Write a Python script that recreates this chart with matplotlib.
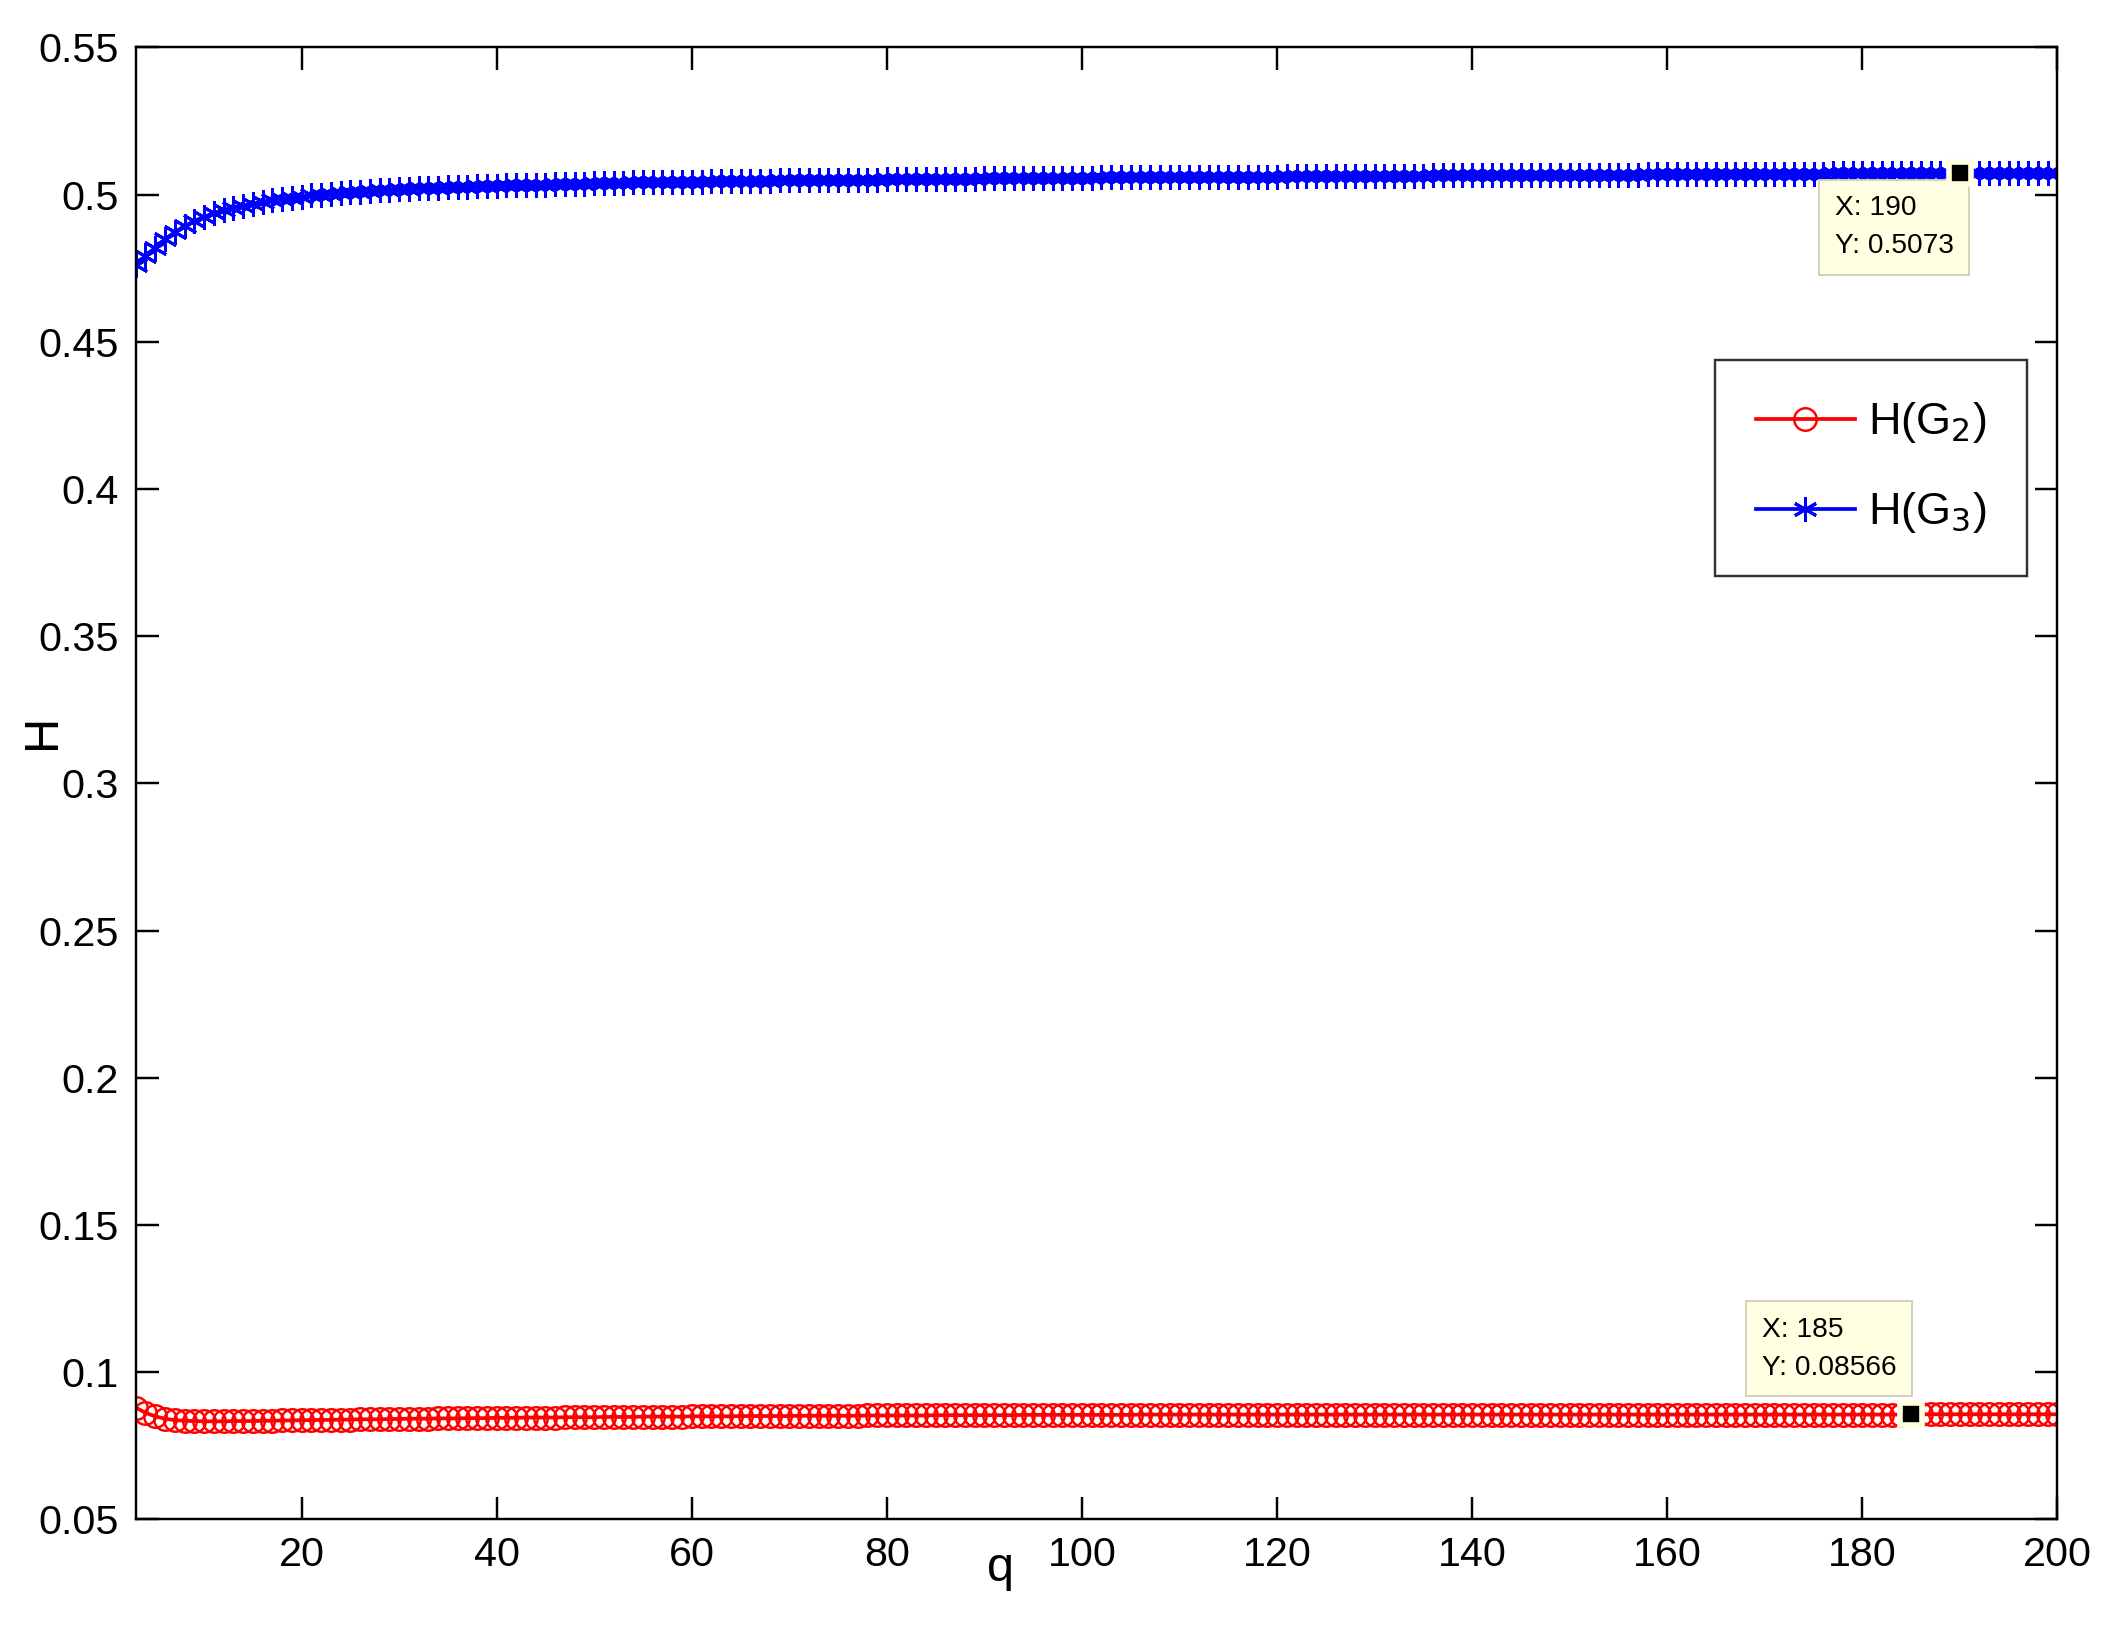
import matplotlib
matplotlib.use("Agg")
import matplotlib.pyplot as plt
import numpy as np

plt.rcParams['font.family'] = ['Liberation Sans', 'DejaVu Sans']

q = np.arange(3, 201)

h_g3 = [
    0.4760, 0.4790, 0.4820, 0.4848, 0.4872, 0.4893, 0.4910, 0.4924, 0.4936, 0.4946,
    0.4955, 0.4962, 0.4969, 0.4975, 0.4980, 0.4985, 0.4989, 0.4993, 0.4997, 0.5000,
    0.5003, 0.5006, 0.5008, 0.5010, 0.5012, 0.5014, 0.5016, 0.5018, 0.5019, 0.5021,
    0.5022, 0.5023, 0.5025, 0.5026, 0.5027, 0.5028, 0.5029, 0.5030, 0.5031, 0.5032,
    0.5033, 0.5034, 0.5034, 0.5035, 0.5036, 0.5037, 0.5037, 0.5038, 0.5039, 0.5039,
    0.5040, 0.5041, 0.5041, 0.5042, 0.5042, 0.5043, 0.5043, 0.5044, 0.5044, 0.5045,
    0.5045, 0.5046, 0.5046, 0.5047, 0.5047, 0.5047, 0.5048, 0.5048, 0.5049, 0.5049,
    0.5049, 0.5050, 0.5050, 0.5050, 0.5051, 0.5051, 0.5051, 0.5052, 0.5052, 0.5052,
    0.5053, 0.5053, 0.5053, 0.5053, 0.5054, 0.5054, 0.5054, 0.5055, 0.5055, 0.5055,
    0.5055, 0.5056, 0.5056, 0.5056, 0.5056, 0.5057, 0.5057, 0.5057, 0.5057, 0.5058,
    0.5058, 0.5058, 0.5058, 0.5058, 0.5059, 0.5059, 0.5059, 0.5059, 0.5060, 0.5060,
    0.5060, 0.5060, 0.5060, 0.5061, 0.5061, 0.5061, 0.5061, 0.5061, 0.5062, 0.5062,
    0.5062, 0.5062, 0.5062, 0.5063, 0.5063, 0.5063, 0.5063, 0.5063, 0.5064, 0.5064,
    0.5064, 0.5064, 0.5064, 0.5065, 0.5065, 0.5065, 0.5065, 0.5065, 0.5066, 0.5066,
    0.5066, 0.5066, 0.5066, 0.5066, 0.5067, 0.5067, 0.5067, 0.5067, 0.5067, 0.5068,
    0.5068, 0.5068, 0.5068, 0.5068, 0.5068, 0.5069, 0.5069, 0.5069, 0.5069, 0.5069,
    0.5069, 0.5070, 0.5070, 0.5070, 0.5070, 0.5070, 0.5070, 0.5071, 0.5071, 0.5071,
    0.5071, 0.5071, 0.5071, 0.5071, 0.5072, 0.5072, 0.5072, 0.5072, 0.5072, 0.5072,
    0.5072, 0.5073, 0.5073, 0.5073, 0.5073, 0.5073, 0.5073, 0.5073, 0.5073, 0.5074,
    0.5074, 0.5074, 0.5074, 0.5074, 0.5074, 0.5074, 0.5074, 0.5074,
]

h_g2 = [
    0.0880, 0.0862, 0.0850, 0.0842, 0.0837, 0.0835, 0.0834, 0.0833, 0.0833, 0.0833,
    0.0834, 0.0834, 0.0834, 0.0835, 0.0835, 0.0836, 0.0836, 0.0837, 0.0837, 0.0838,
    0.0838, 0.0839, 0.0839, 0.0840, 0.0840, 0.0840, 0.0841, 0.0841, 0.0842, 0.0842,
    0.0842, 0.0843, 0.0843, 0.0843, 0.0844, 0.0844, 0.0844, 0.0845, 0.0845, 0.0845,
    0.0846, 0.0846, 0.0846, 0.0846, 0.0847, 0.0847, 0.0847, 0.0847, 0.0848, 0.0848,
    0.0848, 0.0848, 0.0849, 0.0849, 0.0849, 0.0849, 0.0849, 0.0850, 0.0850, 0.0850,
    0.0850, 0.0850, 0.0851, 0.0851, 0.0851, 0.0851, 0.0851, 0.0851, 0.0852, 0.0852,
    0.0852, 0.0852, 0.0852, 0.0852, 0.0852, 0.0853, 0.0853, 0.0853, 0.0853, 0.0853,
    0.0853, 0.0853, 0.0854, 0.0854, 0.0854, 0.0854, 0.0854, 0.0854, 0.0854, 0.0854,
    0.0854, 0.0855, 0.0855, 0.0855, 0.0855, 0.0855, 0.0855, 0.0855, 0.0855, 0.0855,
    0.0855, 0.0855, 0.0855, 0.0856, 0.0856, 0.0856, 0.0856, 0.0856, 0.0856, 0.0856,
    0.0856, 0.0856, 0.0856, 0.0856, 0.0856, 0.0856, 0.0856, 0.0856, 0.0856, 0.0856,
    0.0856, 0.0856, 0.0856, 0.0856, 0.0856, 0.0856, 0.0856, 0.0856, 0.0856, 0.0856,
    0.0856, 0.0856, 0.0856, 0.0856, 0.0856, 0.0856, 0.0856, 0.0856, 0.0856, 0.0856,
    0.0856, 0.0856, 0.0856, 0.0856, 0.0856, 0.0856, 0.0856, 0.0856, 0.0856, 0.0856,
    0.0856, 0.0856, 0.0856, 0.0856, 0.0856, 0.0856, 0.0856, 0.0856, 0.0856, 0.0856,
    0.0856, 0.0856, 0.0856, 0.0856, 0.0856, 0.0856, 0.0856, 0.0856, 0.0856, 0.0856,
    0.0856, 0.0856, 0.0856, 0.0856, 0.0856, 0.0856, 0.0856, 0.0856, 0.0856, 0.0856,
    0.0856, 0.0856, 0.08566, 0.0857, 0.0857, 0.0857, 0.0857, 0.0857, 0.0857, 0.0857,
    0.0857, 0.0857, 0.0857, 0.0857, 0.0857, 0.0857, 0.0857, 0.0857,
]

# datatips (x, y, text)
tip_g3 = (190, 0.5073, "X: 190\nY: 0.5073")
tip_g2 = (185, 0.08566, "X: 185\nY: 0.08566")

fig = plt.figure(figsize=(2121 / 135, 1632 / 135), dpi=135)
ax = fig.add_axes([0.064, 0.069, 0.906, 0.902])

asterisk = (6, 2, 0)
ax.plot(q, h_g2, color="red", marker="o", markersize=12, markerfacecolor="none",
        markeredgewidth=1.3, linewidth=2, label=r"H(G$_2$)")
ax.plot(q, h_g3, color="blue", marker=asterisk, markersize=13, markeredgewidth=1.6,
        linewidth=2, label=r"H(G$_3$)")

ax.set_xlim(3, 200)
ax.set_ylim(0.05, 0.55)
ax.set_xticks(range(20, 201, 20))
ax.set_yticks(np.arange(0.05, 0.551, 0.05))
ax.set_yticklabels(["0.05", "0.1", "0.15", "0.2", "0.25", "0.3", "0.35", "0.4",
                    "0.45", "0.5", "0.55"])
ax.tick_params(direction="in", length=12, width=1.3, labelsize=22,
               top=True, right=True, pad=9)
for s in ax.spines.values():
    s.set_linewidth(1.3)

ax.set_xlabel("q", fontsize=26)
ax.xaxis.set_label_coords(0.450, -0.018)
ax.set_ylabel("H", fontsize=26)
ax.yaxis.set_label_coords(-0.037, 0.535)

# datatips
for tx, ty, _ in [tip_g3, tip_g2]:
    ax.plot([tx], [ty], marker="s", color="black", markersize=12,
            markeredgecolor="#ffffe0", markeredgewidth=3, zorder=5)
ax.text(tip_g3[0] - 12.8, 0.5073 - 0.0075, tip_g3[2], fontsize=15, va="top", ha="left",
        linespacing=1.6,
        bbox=dict(boxstyle="square,pad=0.55", fc="#ffffe1", ec="#d0d0b8"))
ax.text(tip_g2[0] - 15.3, 0.0853 + 0.0335, tip_g2[2], fontsize=15, va="top", ha="left",
        linespacing=1.6,
        bbox=dict(boxstyle="square,pad=0.55", fc="#ffffe1", ec="#d0d0b8"))

leg = ax.legend(loc="upper right", bbox_to_anchor=(0.996, 0.803), fontsize=24,
                fancybox=False, edgecolor="black", handlelength=2.2,
                labelspacing=1.0, borderpad=0.9, handletextpad=0.3)
leg.get_frame().set_linewidth(1.3)

fig.savefig("out.png", dpi=135)
